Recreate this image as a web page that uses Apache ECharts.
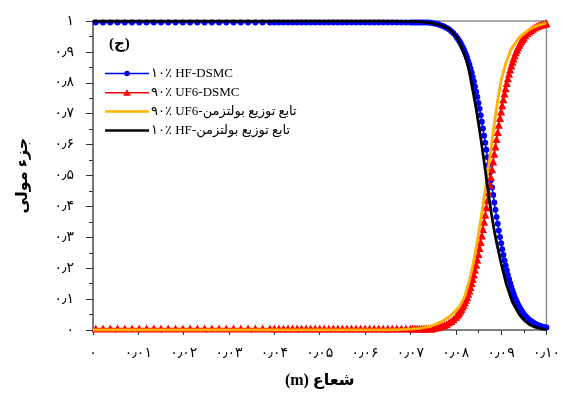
<!DOCTYPE html>
<html>
<head>
<meta charset="utf-8">
<script src="https://cdn.jsdelivr.net/npm/echarts@6/dist/echarts.min.js"></script>
<style>
html,body{margin:0;padding:0;background:#fff;}
#chart{width:563px;height:397px;}
</style>
</head>
<body>
<div id="chart"></div>
<script>
// Tick labels
const xTickLabels = ['۰','۰٫۰۱','۰٫۰۲','۰٫۰۳','۰٫۰۴','۰٫۰۵','۰٫۰۶','۰٫۰۷','۰٫۰۸','۰٫۰۹','۰٫۱۰'];
const yTickLabels = ['۰','۰٫۱','۰٫۲','۰٫۳','۰٫۴','۰٫۵','۰٫۶','۰٫۷','۰٫۸','۰٫۹','۱'];

// Series names
const seriesNames = ['۱۰٪ HF-DSMC', '۹۰٪ UF6-DSMC', '۹۰٪ UF6-تابع توزیع بولتزمن', '۱۰٪ HF-تابع توزیع بولتزمن'];

// DSMC radial positions (m)
const rDsmc = [
  0.0006,0.0022,0.0038,0.0054,0.0070,0.0086,0.0102,0.0118,0.0134,0.0150,0.0166,0.0182,0.0198,0.0214,0.0230,0.0246,0.0262,0.0278,0.0294,0.0310,0.0326,0.0342,0.0358,0.0374,0.0390,
  0.0400,0.0410,0.0420,0.0430,0.0440,0.0450,0.0460,0.0470,0.0480,0.0490,0.0500,0.0510,0.0520,0.0530,0.0540,0.0550,0.0560,0.0570,0.0580,0.0590,0.0600,0.0610,0.0620,0.0630,0.0640,0.0650,0.0660,0.0670,0.0680,0.0690,0.0700,
  0.0705,0.0710,0.0715,0.0720,0.0725,0.0730,0.0735,0.0740,0.0745,0.0750,0.0755,0.0760,0.0765,0.0770,0.0775,0.0780,0.0785,0.0790,0.0795,0.0800,
  0.08025,0.08050,0.08075,0.08100,0.08125,0.08150,0.08175,0.08200,0.08225,0.08250,
  0.08275,0.08300,0.08325,0.08350,0.08375,0.08400,0.08425,0.08450,0.08475,0.08500,
  0.08525,0.08550,0.08575,0.08600,0.08625,0.08650,0.08675,0.08700,0.08725,0.08750,
  0.08775,0.08800,0.08825,0.08850,0.08875,0.08900,0.08925,0.08950,0.08975,0.09000,
  0.09025,0.09050,0.09075,0.09100,0.09125,0.09150,0.09175,0.09200,0.09225,0.09250,
  0.09275,0.09300,0.09325,0.09350,0.09375,0.09400,0.09425,0.09450,0.09475,0.09500,
  0.0954,0.0958,0.0962,0.0966,0.0970,0.0974,0.0978,0.0982,0.0986,0.0990,0.0994,0.0998,0.1000
];
// 10% HF - DSMC mole fraction
const hfDsmc = [
  0.995,0.995,0.995,0.995,0.995,0.995,0.995,0.995,0.995,0.995,0.995,0.995,0.995,0.995,0.995,0.995,0.995,0.995,0.995,0.995,0.995,0.995,0.995,0.995,0.995,
  0.995,0.995,0.995,0.995,0.995,0.995,0.995,0.995,0.995,0.995,0.995,0.995,0.995,0.995,0.995,0.995,0.995,0.995,0.995,0.995,0.995,0.995,0.995,0.995,0.995,0.995,0.995,0.995,0.995,0.995,0.995,
  0.995,0.995,0.995,0.995,0.995,0.995,0.995,0.995,0.994,0.993,0.991,0.990,0.987,0.985,0.981,0.977,0.973,0.967,0.960,0.952,
  0.947,0.942,0.936,0.930,0.923,0.916,0.908,0.900,0.891,0.881,
  0.870,0.859,0.846,0.833,0.819,0.804,0.788,0.771,0.754,0.735,
  0.716,0.695,0.674,0.652,0.629,0.606,0.583,0.559,0.534,0.510,
  0.485,0.461,0.437,0.413,0.389,0.366,0.344,0.322,0.301,0.281,
  0.261,0.243,0.225,0.209,0.193,0.178,0.164,0.151,0.139,0.128,
  0.117,0.107,0.098,0.090,0.082,0.075,0.069,0.063,0.057,0.052,
  0.045,0.039,0.033,0.029,0.025,0.021,0.018,0.015,0.013,0.011,0.010,0.008,0.008
];
// 90% UF6 - DSMC mole fraction
const uf6Dsmc = [
  0.005,0.005,0.005,0.005,0.005,0.005,0.005,0.005,0.005,0.005,0.005,0.005,0.005,0.005,0.005,0.005,0.005,0.005,0.005,0.005,0.005,0.005,0.005,0.005,0.005,
  0.005,0.005,0.005,0.005,0.005,0.005,0.005,0.005,0.005,0.005,0.005,0.005,0.005,0.005,0.005,0.005,0.005,0.005,0.005,0.005,0.005,0.005,0.005,0.005,0.005,0.005,0.005,0.005,0.005,0.005,0.005,
  0.005,0.005,0.005,0.005,0.005,0.005,0.005,0.005,0.005,0.006,0.007,0.009,0.011,0.013,0.016,0.019,0.024,0.029,0.035,0.042,
  0.047,0.051,0.056,0.062,0.068,0.075,0.082,0.090,0.098,0.107,
  0.117,0.128,0.139,0.152,0.165,0.180,0.195,0.211,0.228,0.246,
  0.265,0.285,0.306,0.327,0.350,0.373,0.397,0.421,0.445,0.470,
  0.495,0.520,0.545,0.570,0.594,0.618,0.641,0.664,0.686,0.707,
  0.727,0.747,0.765,0.782,0.799,0.815,0.829,0.843,0.856,0.868,
  0.879,0.889,0.899,0.907,0.915,0.923,0.930,0.936,0.942,0.947,
  0.954,0.961,0.966,0.971,0.975,0.979,0.982,0.985,0.987,0.989,0.990,0.992,0.993
];

// Boltzmann distribution curves
const rBoltzHF = [0,0.0650,0.0700,0.0720,0.0740,0.0764,0.0786,0.0802,0.0813,0.0824,0.0830,0.0837,0.0844,0.0850,0.0856,0.0863,0.0868,0.0873,0.0878,0.0884,0.0889,0.0895,0.0900,0.0911,0.0925,0.0941,0.0952,0.0963,0.0975,0.0988,0.1000];
const hfBoltz = [1,1,0.999,0.998,0.995,0.988,0.974,0.948,0.915,0.871,0.835,0.780,0.725,0.670,0.612,0.540,0.485,0.432,0.382,0.330,0.290,0.250,0.216,0.151,0.090,0.048,0.030,0.017,0.009,0.004,0.002];
const rBoltzUF6 = [0,0.0650,0.0690,0.0720,0.0745,0.0769,0.0790,0.0808,0.0820,0.0830,0.0838,0.0845,0.0851,0.0856,0.0861,0.0866,0.0871,0.0875,0.0879,0.0883,0.0888,0.0893,0.0900,0.0910,0.0922,0.0940,0.0963,0.0980,0.1000];
const uf6Boltz = [0,0,0.002,0.005,0.012,0.027,0.048,0.075,0.110,0.160,0.212,0.265,0.318,0.365,0.414,0.464,0.515,0.558,0.602,0.645,0.697,0.748,0.807,0.861,0.909,0.947,0.974,0.985,0.994];

const zip = (xs, ys) => xs.map((x, i) => [x, ys[i]]);

const chart = echarts.init(document.getElementById('chart'), null, {renderer: 'canvas'});
const serif = "'Times New Roman','Liberation Serif','DejaVu Sans',serif";

const iconCircle = 'path://M0,4.25L44,4.25L44,5.75L0,5.75Z M19.25,5A2.75,2.75,0,1,1,24.75,5A2.75,2.75,0,1,1,19.25,5Z';
const iconTri = 'path://M0,4.25L44,4.25L44,5.75L0,5.75Z M22,1.5L25.8,8L18.2,8Z';
const iconLine = 'path://M0,0L44,0L44,2.5L0,2.5Z';

chart.setOption({
  animation: false,
  backgroundColor: '#fff',
  grid: {left: 93, right: 16, top: 21, bottom: 67, show: true, borderColor: '#8f8f8f', borderWidth: 1.5, backgroundColor: 'transparent'},
  xAxis: {
    type: 'value', min: 0, max: 0.1, interval: 0.01,
    name: '(m) شعاع', nameLocation: 'middle', nameGap: 43,
    nameTextStyle: {fontFamily: serif, fontSize: 16, fontWeight: 'bold', color: '#000'},
    axisLine: {show: true, lineStyle: {color: '#777', width: 1.5}},
    axisTick: {show: true, length: 5, lineStyle: {color: '#333', width: 1}},
    minorTick: {show: true, splitNumber: 2, length: 3, lineStyle: {color: '#333', width: 1}},
    splitLine: {show: false},
    axisLabel: {margin: 16, fontSize: 14, color: '#000', fontFamily: serif,
      formatter: v => xTickLabels[Math.round(v / 0.01)]}
  },
  yAxis: {
    type: 'value', min: 0, max: 1, interval: 0.1,
    name: 'جزء مولی', nameLocation: 'middle', nameGap: 62,
    nameTextStyle: {fontFamily: serif, fontSize: 16, fontWeight: 'bold', color: '#000'},
    axisLine: {show: true, lineStyle: {color: '#777', width: 2}},
    axisTick: {show: true, length: 7, lineStyle: {color: '#333', width: 1}},
    minorTick: {show: true, splitNumber: 2, length: 4, lineStyle: {color: '#333', width: 1}},
    splitLine: {show: false},
    axisLabel: {margin: 19, fontSize: 14, color: '#000', fontFamily: serif,
      formatter: v => yTickLabels[Math.round(v / 0.1)]}
  },
  legend: {
    orient: 'vertical', left: 100, top: 62,
    itemWidth: 44, itemHeight: 12, itemGap: 6,
    data: [
      {name: seriesNames[0], icon: iconCircle},
      {name: seriesNames[1], icon: iconTri},
      {name: seriesNames[2], icon: iconLine},
      {name: seriesNames[3], icon: iconLine}
    ],
    textStyle: {fontFamily: serif, fontSize: 13, color: '#000', padding: [0, 0, 0, -3]}
  },
  graphic: [{
    type: 'text', left: 109, top: 37,
    style: {text: '(ج)', font: "bold 15px 'Times New Roman','Liberation Serif','DejaVu Sans',serif", fill: '#000'}
  }],
  series: [
    {name: seriesNames[0], type: 'line', data: zip(rDsmc, hfDsmc), symbol: 'circle', symbolSize: 6,
     showAllSymbol: true, color: '#0000ff', lineStyle: {width: 1.5, color: '#0000ff'}, itemStyle: {color: '#0000ff'}, z: 2},
    {name: seriesNames[1], type: 'line', data: zip(rDsmc, uf6Dsmc), symbol: 'triangle', symbolSize: 8,
     showAllSymbol: true, color: '#ff0000', lineStyle: {width: 1.5, color: '#ff0000'}, itemStyle: {color: '#ff0000'}, z: 2},
    {name: seriesNames[2], type: 'line', data: zip(rBoltzUF6, uf6Boltz), showSymbol: false, symbol: 'none',
     color: '#ffb000', lineStyle: {width: 2.8, color: '#ffb000'}, z: 3},
    {name: seriesNames[3], type: 'line', data: zip(rBoltzHF, hfBoltz), showSymbol: false, symbol: 'none',
     color: '#000000', lineStyle: {width: 2.8, color: '#000000'}, z: 3}
  ]
});
</script>
</body>
</html>
